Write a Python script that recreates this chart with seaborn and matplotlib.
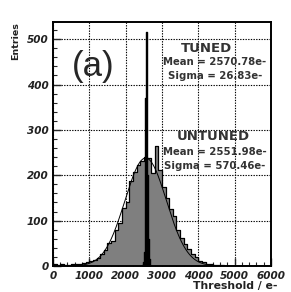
import numpy as np
import pandas as pd
import matplotlib
matplotlib.use("Agg")
import matplotlib.pyplot as plt
import seaborn as sns
from matplotlib.ticker import MultipleLocator

# untuned threshold distribution, 100 e- bins from 0 to 6000
untuned_edges = list(range(0, 6001, 100))
untuned_counts = [5, 3, 4, 2, 3, 4, 4, 5, 6, 8,
                  10, 14, 18, 26, 35, 50, 55, 80, 95, 128,
                  140, 188, 207, 222, 232, 240, 238, 205, 265, 212,
                  175, 150, 125, 110, 80, 62, 48, 38, 26, 20,
                  12, 8, 5, 4, 3, 2, 2, 1, 1, 1,
                  0, 0, 0, 0, 0, 0, 0, 0, 0, 0]

# tuned threshold distribution, 20 e- bins
tuned_edges = list(range(2460, 2681, 20))
tuned_counts = [2, 8, 30, 90, 370, 515, 445, 200, 60, 15, 3]

# gaussian fit of the untuned distribution
fit_mean = 2551.98
fit_sigma = 570.46
fit_amp = 238

untuned = pd.DataFrame({"thr": [e + 50 for e in untuned_edges[:-1]],
                        "n": untuned_counts})
tuned = pd.DataFrame({"thr": [e + 10 for e in tuned_edges[:-1]],
                      "n": tuned_counts})

sns.set_style("ticks")
plt.rcParams["font.family"] = ["DejaVu Sans"]

fig = plt.figure(figsize=(2.91, 2.92), dpi=100)
ax = fig.add_axes([0.182, 0.089, 0.749, 0.836])

# gray filled untuned histogram with black outline
sns.histplot(data=untuned, x="thr", weights="n", bins=untuned_edges, ax=ax,
             element="step", fill=True, color="#7f7f7f", alpha=1, linewidth=0)
sns.histplot(data=untuned, x="thr", weights="n", bins=untuned_edges, ax=ax,
             element="step", fill=False, color="black", linewidth=0.9)

xf = np.linspace(0, 6000, 600)
yf = fit_amp * np.exp(-0.5 * ((xf - fit_mean) / fit_sigma) ** 2)
sns.lineplot(x=xf, y=yf, ax=ax, color="black", linewidth=0.7)

sns.histplot(data=tuned, x="thr", weights="n", bins=tuned_edges, ax=ax,
             element="step", fill=True, color="black", alpha=1,
             edgecolor="black", linewidth=1.0)

ax.set_xlim(0, 6000)
ax.set_ylim(0, 538)
ax.xaxis.set_major_locator(MultipleLocator(1000))
ax.xaxis.set_minor_locator(MultipleLocator(200))
ax.yaxis.set_major_locator(MultipleLocator(100))
ax.yaxis.set_minor_locator(MultipleLocator(20))
ax.grid(True, which="major", color="black", linestyle=(0, (1.2, 1.2)), linewidth=0.8)
ax.set_axisbelow(True)

ax.tick_params(which="both", direction="in", top=False, right=False)
ax.tick_params(which="major", length=6, width=1.0)
ax.tick_params(which="minor", length=3, width=0.8)
for lab in ax.get_xticklabels() + ax.get_yticklabels():
    lab.set_fontweight("bold")
    lab.set_fontstyle("italic")
    lab.set_fontsize(7.5)
    lab.set_color("#222222")
ax.tick_params(axis="y", pad=3)
ax.tick_params(axis="x", pad=3.5)

for s in ax.spines.values():
    s.set_visible(True)
    s.set_linewidth(1.4)
    s.set_color("black")

ax.set_xlabel("")
ax.set_ylabel("")
fig.text(0.952, 0.022, "Threshold / e-", ha="right", va="center",
         fontsize=7.8, fontweight="bold", color="#222222")
fig.text(0.055, 0.925, "Entries", ha="center", va="top", rotation=90,
         fontsize=6.8, fontweight="bold", color="#222222")

ax.text(0.183, 0.816, "(a)", transform=ax.transAxes, ha="center", va="center",
        fontsize=25, family="Liberation Sans")
ax.text(0.706, 0.889, "TUNED", transform=ax.transAxes, ha="center", va="center",
        fontsize=9.5, fontweight="bold", color="#333333")
ax.text(0.743, 0.836, "Mean = 2570.78e-", transform=ax.transAxes, ha="center",
        va="center", fontsize=7.3, fontweight="bold", color="#333333")
ax.text(0.743, 0.779, "Sigma = 26.83e-", transform=ax.transAxes, ha="center",
        va="center", fontsize=7.3, fontweight="bold", color="#333333")
ax.text(0.734, 0.529, "UNTUNED", transform=ax.transAxes, ha="center", va="center",
        fontsize=9.5, fontweight="bold", color="#333333")
ax.text(0.743, 0.467, "Mean = 2551.98e-", transform=ax.transAxes, ha="center",
        va="center", fontsize=7.3, fontweight="bold", color="#333333")
ax.text(0.743, 0.41, "Sigma = 570.46e-", transform=ax.transAxes, ha="center",
        va="center", fontsize=7.3, fontweight="bold", color="#333333")

fig.savefig("out.png", dpi=100)
